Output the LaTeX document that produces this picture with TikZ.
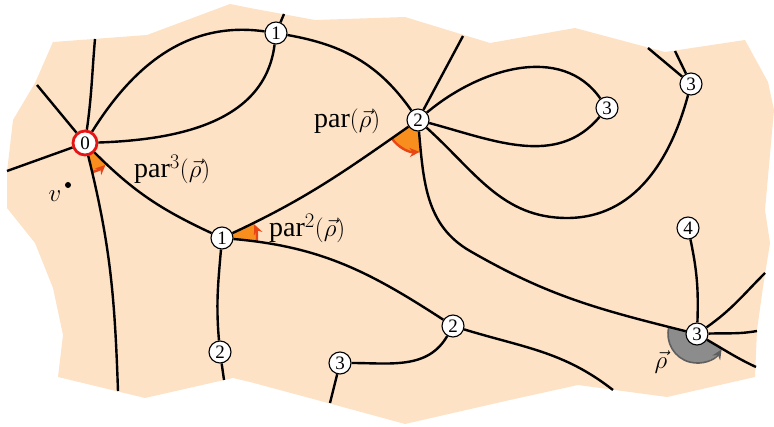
\documentclass[tikz,border=0pt]{standalone}
\usepackage{fontspec}
\setmainfont{Liberation Serif}
\usetikzlibrary{arrows.meta}
\definecolor{peach}{RGB}{253,226,198}
\definecolor{rootred}{RGB}{230,20,20}
\definecolor{wedgeorange}{RGB}{247,142,30}
\definecolor{arcred}{RGB}{232,70,20}
\definecolor{wedgegray}{RGB}{140,140,140}
\definecolor{arcgray}{RGB}{95,95,95}
\begin{document}
\begin{tikzpicture}[x=1pt,y=1pt,
  vtx/.style={circle,draw,line width=1.1pt,fill=white,minimum size=22pt,inner sep=0pt,font=\fontsize{19}{19}\selectfont},
  root/.style={vtx,draw=rootred,line width=2.8pt,minimum size=24pt},
  edge/.style={line width=2.4pt,black},
  lbl/.style={font=\fontsize{28}{30}\selectfont,inner sep=0pt},
  wedgearc/.style={draw=arcred,line width=2.4pt,-{Stealth[length=10pt,width=9pt]}},
  grayarc/.style={draw=arcgray,line width=1.6pt,-{Stealth[length=10pt,width=9pt]}}]
\useasboundingbox (0,0) rectangle (774,426);
\fill[peach] (53,384) -- (147,391) -- (230,422) -- (250,418) -- (315,406) -- (405,409)
  -- (490,383) -- (575,398) -- (665,374) -- (745,386) -- (768,344) -- (774,316)
  -- (765,216) -- (770,183) -- (763,139) -- (757,96) -- (755,49) -- (667,29)
  -- (578,41) -- (510,26) -- (405,2) -- (328,23) -- (250,44) -- (233,48) -- (145,28)
  -- (58,49) -- (63,91) -- (53,138) -- (35,183) -- (7,218) -- (7,254) -- (13,306)
  -- (35,343) -- cycle;
% centres
\coordinate (c0) at (85,283);
\coordinate (ct1) at (276,393);
\coordinate (cn2) at (418,306);
\coordinate (ca3) at (607,318);
\coordinate (cb3) at (691,342);
\coordinate (cm1) at (222,188);
\coordinate (cc2) at (220,74);
\coordinate (cd2) at (453,100);
\coordinate (ce3) at (340,63);
\coordinate (cf4) at (688,198);
\coordinate (cg3) at (697,92);
% free ends
\coordinate (p0up) at (95,387);
\coordinate (p0ul) at (37,341);
\coordinate (p0l) at (7,255);
\coordinate (p0d) at (118,35);
\coordinate (t1top) at (284,412);
\coordinate (n2top) at (463,390);
\coordinate (b3topa) at (648,378);
\coordinate (b3topb) at (675,375);
\coordinate (c2bot) at (224,46);
\coordinate (e3bot) at (330,23);
\coordinate (d2bot) at (613,36);
\coordinate (g3a) at (765,153);
\coordinate (g3b) at (757,95);
\coordinate (g3c) at (756,59);
\coordinate (w1) at (470,175);
\coordinate (w2) at (567,208);
% wedges
\fill[wedgeorange] (c0) -- ++(-76:30pt) arc[start angle=-76,end angle=-45,radius=30pt] -- cycle;
\draw[wedgearc] (c0) ++(-76:30pt) arc[start angle=-76,end angle=-47,radius=30pt];
\fill[wedgeorange] (cn2) -- ++(215:32pt) arc[start angle=215,end angle=275,radius=32pt] -- cycle;
\draw[wedgearc] (cn2) ++(215:32pt) arc[start angle=215,end angle=273,radius=32pt];
\fill[wedgeorange] (cm1) -- ++(-5:35pt) arc[start angle=-5,end angle=25,radius=35pt] -- cycle;
\draw[wedgearc] (cm1) ++(-5:35pt) arc[start angle=-5,end angle=23,radius=35pt];
\fill[wedgegray] (cg3) -- ++(166:29pt) arc[start angle=166,end angle=330,radius=29pt] -- cycle;
\draw[grayarc] (cg3) ++(166:29pt) arc[start angle=166,end angle=328,radius=29pt];
% nodes
\node[root] (n0) at (c0) {0};
\node[vtx] (t1) at (ct1) {1};
\node[vtx] (n2) at (cn2) {2};
\node[vtx] (a3) at (ca3) {3};
\node[vtx] (b3) at (cb3) {3};
\node[vtx] (m1) at (cm1) {1};
\node[vtx] (c2) at (cc2) {2};
\node[vtx] (d2) at (cd2) {2};
\node[vtx] (e3) at (ce3) {3};
\node[vtx] (f4) at (cf4) {4};
\node[vtx] (g3) at (cg3) {3};
% edges
\draw[edge] (n0) to[out=82,in=-95] (p0up);
\draw[edge] (n0) -- (p0ul);
\draw[edge] (n0) -- (p0l);
\draw[edge] (n0) to[out=-76,in=92] (p0d);
\draw[edge] (n0) to[out=58,in=172] (t1);
\draw[edge] (n0) to[out=2,in=-97] (t1);
\draw[edge] (t1) -- (t1top);
\draw[edge] (t1) to[out=-10,in=125] (n2);
\draw[edge] (m1) to[out=25,in=-145] (n2);
\draw[edge] (n2) -- (n2top);
\draw[edge] (n2) to[out=40,in=125] (a3);
\draw[edge] (n2) to[out=-15,in=-130] (a3);
\draw[edge] (n2) to[out=-85,in=150] (w1) to[out=-30,in=166] (g3);
\draw[edge] (n2) to[out=-42,in=180] (w2) to[out=0,in=-105] (b3);
\draw[edge] (b3) -- (b3topa);
\draw[edge] (b3) -- (b3topb);
\draw[edge] (n0) to[out=-45,in=155] (m1);
\draw[edge] (m1) to[out=-95,in=95] (c2);
\draw[edge] (c2) -- (c2bot);
\draw[edge] (m1) to[out=-5,in=147] (d2);
\draw[edge] (d2) to[out=-120,in=0] (e3);
\draw[edge] (e3) -- (e3bot);
\draw[edge] (d2) to[out=-17,in=142] (d2bot);
\draw[edge] (f4) to[out=-78,in=88] (g3);
\draw[edge] (g3) to[out=35,in=-135] (g3a);
\draw[edge] (g3) to[out=2,in=-170] (g3b);
\draw[edge] (g3) to[out=-30,in=155] (g3c);
% labels
\node[lbl,anchor=base west] (l3) at (134,248) {$\mathrm{par}^{3}(\vec{\rho})$};
\node[lbl,anchor=base west] (l1) at (314,298) {$\mathrm{par}(\vec{\rho})$};
\node[lbl,anchor=base west] (l2) at (269,189) {$\mathrm{par}^{2}(\vec{\rho})$};
\node[lbl] (lr) at (661,64) {$\vec{\rho}$};
\node[lbl] (lv) at (55,230) {$v$};
\fill (68,241) circle[radius=3pt];
\end{tikzpicture}
\end{document}
